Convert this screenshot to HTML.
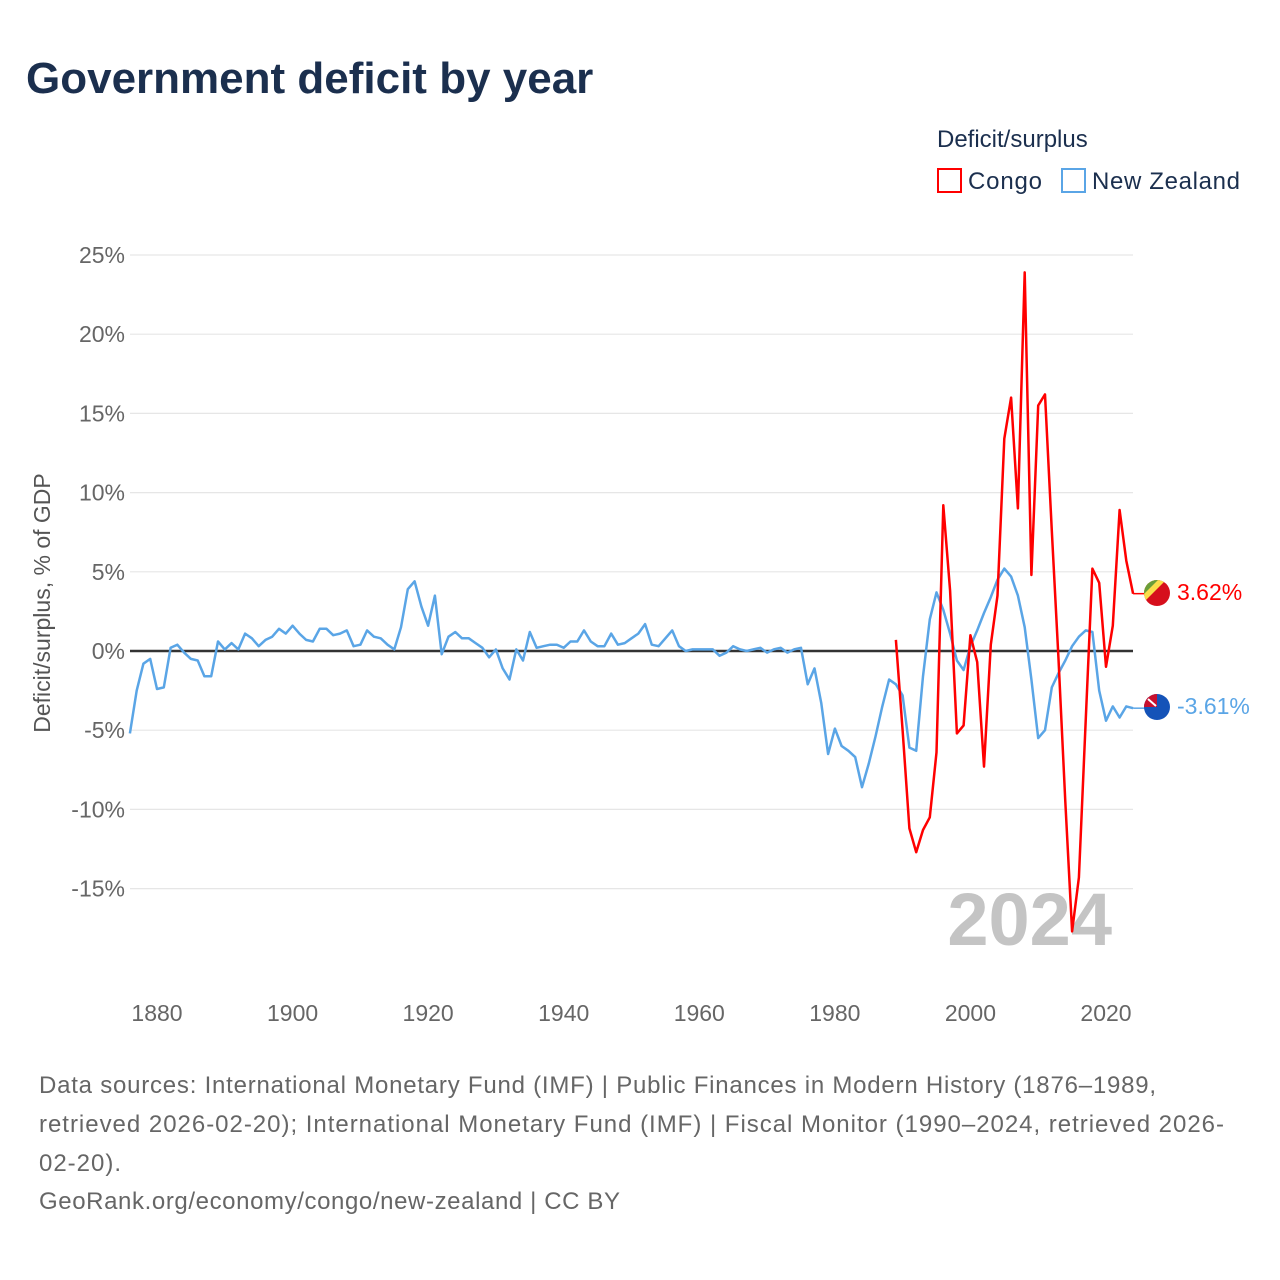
<!DOCTYPE html>
<html><head><meta charset="utf-8"><style>
body{margin:0;background:#fff;font-family:"Liberation Sans",sans-serif;}
#wrap{position:relative;width:1280px;height:1280px;overflow:hidden;}
</style></head><body>
<div id="wrap">
<svg id="chart" width="1280" height="1280" xmlns="http://www.w3.org/2000/svg">
<defs><clipPath id="c1"><circle cx="1157" cy="593" r="13"/></clipPath></defs>
<text x="26" y="93" font-size="44" font-weight="bold" fill="#1b2f4e">Government deficit by year</text>
<text x="937" y="147" font-size="24" fill="#1b2f4e">Deficit/surplus</text>
<g><rect x="938" y="169" width="23" height="23" fill="none" stroke="#ff0000" stroke-width="2"/><text x="968" y="189" font-size="24" fill="#1b2f4e" textLength="74">Congo</text></g>
<g><rect x="1062" y="169" width="23" height="23" fill="none" stroke="#5aa5e6" stroke-width="2"/><text x="1092" y="189" font-size="24" fill="#1b2f4e" textLength="148">New Zealand</text></g>
<text transform="translate(50,603) rotate(-90)" text-anchor="middle" font-size="23" fill="#555">Deficit/surplus, % of GDP</text>
<g id="grid"></g><g id="yticks"></g><g id="xticks"></g>
<text x="1112" y="945" text-anchor="end" font-size="74" font-weight="bold" fill="#c4c4c4">2024</text>
<line x1="130" x2="1133" y1="651" y2="651" stroke="#333" stroke-width="2.5"/>
<g id="series"></g>
<g clip-path="url(#c1)">
<rect x="1140" y="576" width="34" height="34" fill="#d60f1c"/>
<polygon points="1140,576 1170,576 1140,606" fill="#fbde4a"/>
<polygon points="1140,576 1162,576 1140,598" fill="#6a9e3a"/>
</g>
<g><circle cx="1157" cy="707" r="13" fill="#1553b8"/><path d="M1144,707 A13,13 0 0 1 1157,694 L1157,707 Z" fill="#c8102e"/><path d="M1148,699 L1156,706" stroke="#fff" stroke-width="2"/></g>
<text x="1177" y="600" font-size="23" fill="#ff0000">3.62%</text>
<text x="1177" y="714" font-size="23" fill="#5aa5e6">-3.61%</text>
<g font-size="24" fill="#666">
<text x="39" y="1093" textLength="1117">Data sources: International Monetary Fund (IMF) | Public Finances in Modern History (1876–1989,</text>
<text x="39" y="1132" textLength="1185">retrieved 2026-02-20); International Monetary Fund (IMF) | Fiscal Monitor (1990–2024, retrieved 2026-</text>
<text x="39" y="1171" textLength="82">02-20).</text>
<text x="39" y="1209" textLength="581">GeoRank.org/economy/congo/new-zealand | CC BY</text>
</g>
</svg>
</div>
<script>
const yTicks=[25,20,15,10,5,0,-5,-10,-15];
const xTicks=[1880,1900,1920,1940,1960,1980,2000,2020];
const nzStart=1876;
const nzValues=[-5.2,-2.5,-0.8,-0.5,-2.4,-2.3,0.2,0.4,-0.1,-0.5,-0.6,-1.6,-1.6,0.6,0.1,0.5,0.1,1.1,0.8,0.3,0.7,0.9,1.4,1.1,1.6,1.1,0.7,0.6,1.4,1.4,1.0,1.1,1.3,0.3,0.4,1.3,0.9,0.8,0.4,0.1,1.5,3.9,4.4,2.8,1.6,3.5,-0.2,0.9,1.2,0.8,0.8,0.5,0.2,-0.4,0.1,-1.1,-1.8,0.1,-0.6,1.2,0.2,0.3,0.4,0.4,0.2,0.6,0.6,1.3,0.6,0.3,0.3,1.1,0.4,0.5,0.8,1.1,1.7,0.4,0.3,0.8,1.3,0.3,0.0,0.1,0.1,0.1,0.1,-0.3,-0.1,0.3,0.1,0.0,0.1,0.2,-0.1,0.1,0.2,-0.1,0.1,0.2,-2.1,-1.1,-3.3,-6.5,-4.9,-6.0,-6.3,-6.7,-8.6,-7.1,-5.4,-3.5,-1.8,-2.1,-2.8,-6.1,-6.3,-1.6,2.0,3.7,2.6,1.1,-0.6,-1.2,0.3,1.3,2.4,3.4,4.5,5.2,4.7,3.5,1.5,-1.8,-5.5,-5.0,-2.3,-1.4,-0.6,0.3,0.9,1.3,1.2,-2.5,-4.4,-3.5,-4.2,-3.5,-3.61];
const congoStart=1989;
const congoValues=[0.7,-5.0,-11.2,-12.7,-11.3,-10.5,-6.4,9.2,3.8,-5.2,-4.7,1.0,-0.7,-7.3,0.4,3.5,13.4,16.0,9.0,23.9,4.8,15.5,16.2,7.6,-0.5,-9.5,-17.7,-14.3,-4.4,5.2,4.3,-1.0,1.6,8.9,5.7,3.62];
const NS="http://www.w3.org/2000/svg";
function xs(yr){return 157+(yr-1880)*(1106-157)/140;}
function ys(v){return 651-v*15.84;}
const grid=document.getElementById('grid'),yt=document.getElementById('yticks'),xt=document.getElementById('xticks'),ser=document.getElementById('series');
yTicks.forEach(v=>{
 if(v!==0){const l=document.createElementNS(NS,'line');l.setAttribute('x1',130);l.setAttribute('x2',1133);l.setAttribute('y1',ys(v));l.setAttribute('y2',ys(v));l.setAttribute('stroke','#e6e6e6');l.setAttribute('stroke-width','1.2');
 
 
 grid.appendChild(l);}
 const t=document.createElementNS(NS,'text');t.setAttribute('x',125);t.setAttribute('y',ys(v)+8);t.setAttribute('text-anchor','end');t.setAttribute('font-size','23');t.setAttribute('fill','#666');t.textContent=v+'%';
 
 
 yt.appendChild(t);
});
xTicks.forEach(v=>{
 const t=document.createElementNS(NS,'text');t.setAttribute('x',xs(v));t.setAttribute('y',1021);t.setAttribute('text-anchor','middle');t.setAttribute('font-size','23');t.setAttribute('fill','#666');t.textContent=v;
 
 
 xt.appendChild(t);
});
function line(start,vals,color,name){
 const p=document.createElementNS(NS,'polyline');
 p.setAttribute('points',vals.map((v,i)=>xs(start+i).toFixed(1)+','+ys(v).toFixed(1)).join(' '));
 p.setAttribute('fill','none');p.setAttribute('stroke',color);p.setAttribute('stroke-width','2.5');p.setAttribute('stroke-linejoin','round');
 
 
 ser.appendChild(p);
 const last=vals[vals.length-1];
 const c=document.createElementNS(NS,'line');c.setAttribute('x1',xs(start+vals.length-1));c.setAttribute('x2',1145);c.setAttribute('y1',ys(last));c.setAttribute('y2',ys(last));c.setAttribute('stroke',color);c.setAttribute('stroke-width','1.5');
 
 
 ser.appendChild(c);
}
line(nzStart,nzValues,'#5aa5e6','new-zealand-line');
line(congoStart,congoValues,'#ff0000','congo-line');
</script>
</body></html>
